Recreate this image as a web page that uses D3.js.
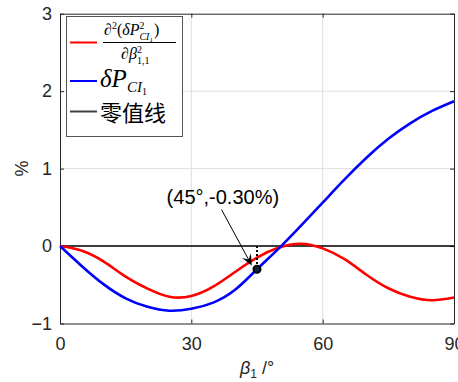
<!DOCTYPE html>
<html>
<head>
<meta charset="utf-8">
<script src="https://cdn.jsdelivr.net/npm/d3@7"></script>
<style>
  body { margin: 0; background: #fff; }
  svg { display: block; }
</style>
</head>
<body>
<svg id="chart" width="458" height="382"></svg>
<script>
// region data
const beta = [0, 5, 10, 15, 20, 25, 30, 35, 40, 45, 50, 55, 60, 65, 70, 75, 80, 85, 90];
const d2Values = [0, -0.06, -0.20, -0.395, -0.55, -0.655, -0.645, -0.525, -0.335, -0.15, -0.02, 0.03, -0.03, -0.17, -0.37, -0.545, -0.655, -0.70, -0.665];
const dpValues = [0, -0.26, -0.495, -0.675, -0.785, -0.835, -0.81, -0.73, -0.565, -0.30, -0.03, 0.26, 0.56, 0.86, 1.14, 1.385, 1.585, 1.745, 1.87];
const zeroBeta = [0, 90];
const zeroValues = [0, 0];
const xTicks = [0, 30, 60, 90];
const yTicks = [-1, 0, 1, 2, 3];
const markPoint = [45, -0.30];
const markLabel = '(45°,-0.30%)';
const labelAt = [37.2, 0.54];
const arrowFrom = [36.9, 0.47];
const arrowTo = [43.8, -0.25];
// endregion

const axisColor = '#262626';
const gridColor = '#dfdfdf';
const fontSans = 'Liberation Sans, Arial, sans-serif';
const fontMath = 'Liberation Serif, Times New Roman, serif';

const x = d3.scaleLinear().domain([0, 90]).range([60, 454]);
const y = d3.scaleLinear().domain([-1, 3]).range([323.5, 13.7]);

const svg = d3.select('#chart');

// grid
svg.append('g')
  .selectAll('line')
  .data(xTicks.slice(1, -1))
  .join('line')
  .attr('x1', d => x(d)).attr('x2', d => x(d))
  .attr('y1', y(-1)).attr('y2', y(3))
  .attr('stroke', gridColor).attr('stroke-width', 1);

svg.append('g')
  .selectAll('line')
  .data(yTicks.slice(1, -1))
  .join('line')
  .attr('x1', x(0)).attr('x2', x(90))
  .attr('y1', d => y(d)).attr('y2', d => y(d))
  .attr('stroke', gridColor).attr('stroke-width', 1);

// axes
function styleAxis(g, hideText) {
  g.selectAll('path').attr('stroke', axisColor);
  g.selectAll('line').attr('stroke', axisColor);
  g.selectAll('text')
    .attr('fill', axisColor)
    .style('font-family', fontSans)
    .style('font-size', '18px');
  if (hideText) g.selectAll('text').remove();
}

const fmt = d3.format('d');

svg.append('g')
  .attr('transform', 'translate(0,' + y(-1) + ')')
  .call(d3.axisBottom(x).tickValues(xTicks).tickFormat(fmt).tickSizeInner(-4).tickSizeOuter(0).tickPadding(14))
  .call(g => styleAxis(g, false))
  .call(g => g.selectAll('text').attr('dy', '0.71em'));

svg.append('g')
  .attr('transform', 'translate(0,' + y(3) + ')')
  .call(d3.axisTop(x).tickValues(xTicks).tickSizeInner(-4).tickSizeOuter(0))
  .call(g => styleAxis(g, true));

svg.append('g')
  .attr('transform', 'translate(' + x(0) + ',0)')
  .call(d3.axisLeft(y).tickValues(yTicks).tickFormat(fmt).tickSizeInner(-4).tickSizeOuter(0).tickPadding(8))
  .call(g => styleAxis(g, false));

svg.append('g')
  .attr('transform', 'translate(' + x(90) + ',0)')
  .call(d3.axisRight(y).tickValues(yTicks).tickSizeInner(-4).tickSizeOuter(0))
  .call(g => styleAxis(g, true));

// axis labels
svg.append('text')
  .attr('transform', 'translate(22,' + ((y(-1) + y(3)) / 2) + ') rotate(-90)')
  .attr('text-anchor', 'middle')
  .attr('dy', '0.35em')
  .attr('fill', axisColor)
  .style('font-family', fontSans)
  .style('font-size', '18px')
  .text('%');

const xl = svg.append('text')
  .attr('x', (x(0) + x(90)) / 2)
  .attr('y', 374)
  .attr('text-anchor', 'middle')
  .attr('fill', axisColor)
  .style('font-family', fontSans)
  .style('font-size', '18px');
xl.append('tspan').style('font-style', 'italic').text('β');
xl.append('tspan').attr('dy', 4).style('font-size', '12px').text('1');
xl.append('tspan').attr('dy', -4).text(' /°');

// series
const line = d3.line()
  .curve(d3.curveNatural)
  .x(d => x(d[0]))
  .y(d => y(d[1]));

svg.append('path')
  .datum(d3.zip(zeroBeta, zeroValues))
  .attr('d', line)
  .attr('fill', 'none')
  .attr('stroke', '#000')
  .attr('stroke-width', 1.5);

svg.append('path')
  .datum(d3.zip(beta, d2Values))
  .attr('d', line)
  .attr('fill', 'none')
  .attr('stroke', '#ff0000')
  .attr('stroke-width', 2.6);

svg.append('path')
  .datum(d3.zip(beta, dpValues))
  .attr('d', line)
  .attr('fill', 'none')
  .attr('stroke', '#0000ff')
  .attr('stroke-width', 2.6);

// annotation
svg.append('line')
  .attr('x1', x(markPoint[0])).attr('x2', x(markPoint[0]))
  .attr('y1', y(0)).attr('y2', y(markPoint[1]))
  .attr('stroke', '#000').attr('stroke-width', 2)
  .attr('stroke-dasharray', '2,2');

svg.append('circle')
  .attr('cx', x(markPoint[0])).attr('cy', y(markPoint[1]))
  .attr('r', 3.6)
  .attr('fill', '#0a2240')
  .attr('stroke', '#000')
  .attr('stroke-width', 1.8);

const ax1 = x(arrowFrom[0]), ay1 = y(arrowFrom[1]);
const ax2 = x(arrowTo[0]), ay2 = y(arrowTo[1]);
const ang = Math.atan2(ay2 - ay1, ax2 - ax1);
const headLen = 11, headW = 5;
svg.append('line')
  .attr('x1', ax1).attr('y1', ay1)
  .attr('x2', ax2 - Math.cos(ang) * 6).attr('y2', ay2 - Math.sin(ang) * 6)
  .attr('stroke', '#000').attr('stroke-width', 1);
const bx = ax2 - Math.cos(ang) * headLen, by = ay2 - Math.sin(ang) * headLen;
const nx = -Math.sin(ang) * headW, ny = Math.cos(ang) * headW;
const mx = ax2 - Math.cos(ang) * headLen * 0.6, my = ay2 - Math.sin(ang) * headLen * 0.6;
svg.append('path')
  .attr('d', `M${ax2},${ay2}L${bx + nx},${by + ny}L${mx},${my}L${bx - nx},${by - ny}Z`)
  .attr('fill', '#000');

svg.append('text')
  .attr('x', x(labelAt[0]))
  .attr('y', y(labelAt[1]))
  .attr('text-anchor', 'middle')
  .attr('fill', '#000')
  .style('font-family', fontSans)
  .style('font-size', '20px')
  .text(markLabel);

// legend
const legend = svg.append('g');
legend.append('rect')
  .attr('x', 66.5).attr('y', 16.5)
  .attr('width', 116).attr('height', 120)
  .attr('fill', '#fff')
  .attr('stroke', '#555')
  .attr('stroke-width', 1);

const legendRows = [
  {color: '#ff0000', y: 42.5},
  {color: '#0000ff', y: 81},
  {color: '#404040', y: 111.5}
];
legend.selectAll('line.key')
  .data(legendRows)
  .join('line')
  .attr('class', 'key')
  .attr('x1', 70).attr('x2', 97)
  .attr('y1', d => d.y).attr('y2', d => d.y)
  .attr('stroke', d => d.color)
  .attr('stroke-width', 2);

// fraction
const num = legend.append('text')
  .attr('x', 104).attr('y', 35)
  .attr('fill', '#000')
  .style('font-family', fontMath)
  .style('font-size', '16px');
num.append('tspan').style('font-style', 'italic').text('∂');
num.append('tspan').attr('dy', -6).style('font-size', '10px').text('2');
num.append('tspan').attr('dy', 6).text('(');
num.append('tspan').style('font-style', 'italic').text('δP');
num.append('tspan').attr('dy', -6).style('font-size', '10px').text('2');
num.append('tspan').attr('dx', -5).attr('dy', 11).style('font-size', '10px').style('font-style', 'italic').text('CI');
num.append('tspan').attr('dy', 2).style('font-size', '7px').text('1');
num.append('tspan').attr('dx', 1).attr('dy', -7).text(')');

legend.append('line')
  .attr('x1', 103).attr('x2', 176)
  .attr('y1', 42.5).attr('y2', 42.5)
  .attr('stroke', '#000').attr('stroke-width', 1);

const den = legend.append('text')
  .attr('x', 121).attr('y', 59)
  .attr('fill', '#000')
  .style('font-family', fontMath)
  .style('font-size', '16px');
den.append('tspan').style('font-style', 'italic').text('∂β');
den.append('tspan').attr('dy', -6).style('font-size', '10px').text('2');
den.append('tspan').attr('dx', -5).attr('dy', 11).style('font-size', '10px').text('1,1');

const dp = legend.append('text')
  .attr('x', 100).attr('y', 87)
  .attr('fill', '#000')
  .style('font-family', fontMath)
  .style('font-size', '25px');
dp.append('tspan').style('font-style', 'italic').text('δP');
dp.append('tspan').attr('dy', 5).style('font-size', '15px').style('font-style', 'italic').text('CI');
dp.append('tspan').attr('dy', 3).style('font-size', '10px').text('1');

legend.append('text')
  .attr('x', 100).attr('y', 121)
  .attr('fill', '#000')
  .style('font-family', 'Noto Sans CJK SC, sans-serif')
  .style('font-size', '22px')
  .text('零值线');
</script>
</body>
</html>
